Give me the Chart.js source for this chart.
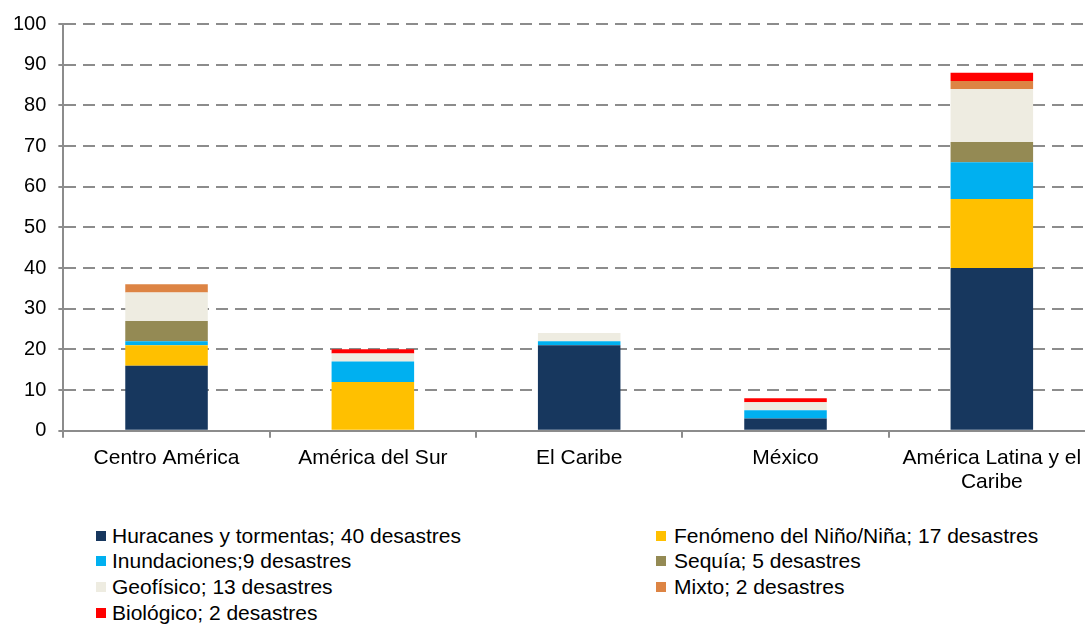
<!DOCTYPE html>
<html>
<head>
<meta charset="utf-8">
<script src="https://cdn.jsdelivr.net/npm/chart.js@4/dist/chart.umd.min.js"></script>
<style>
  html, body { margin: 0; padding: 0; background: #fff; overflow: hidden; }
  #wrap { position: relative; width: 1085px; height: 625px; overflow: hidden; }
  #chartBox { position: absolute; left: 0; top: 0; width: 1095px; height: 502px; }
  .leg { position: absolute; font-family: "Liberation Sans", Arial, sans-serif; font-size: 21px; color: #000; white-space: nowrap; line-height: 24px; }
  .leg span { position: absolute; width: 10px; height: 10px; top: 7px; }
</style>
</head>
<body>
<div id="wrap">
  <div id="chartBox"><canvas id="disasterChart"></canvas></div>
  <div id="legend"></div>
</div>
<script>
const categories = ['Centro América', 'América del Sur', 'El Caribe', 'México', ['América Latina y el', 'Caribe']];

const seriesNames = [
    'Huracanes y tormentas; 40 desastres',
    'Fenómeno del Niño/Niña; 17 desastres',
    'Inundaciones;9 desastres',
    'Sequía; 5 desastres',
    'Geofísico; 13 desastres',
    'Mixto; 2 desastres',
    'Biológico; 2 desastres'
];

const huracanes = [16, 0, 21, 3, 40];
const nino = [5, 12, 0, 0, 17];
const inundaciones = [1, 5, 1, 2, 9];
const sequia = [5, 0, 0, 0, 5];
const geofisico = [7, 2, 2, 2, 13];
const mixto = [2, 0, 0, 0, 2];
const biologico = [0, 1, 0, 1, 2];

const yTicks = [0, 10, 20, 30, 40, 50, 60, 70, 80, 90, 100];

const seriesValues = [huracanes, nino, inundaciones, sequia, geofisico, mixto, biologico];
const colors = ['#17375e', '#ffc000', '#00b0f0', '#948a54', '#eeece1', '#dd8444', '#ff0000'];

const datasets = seriesNames.map((name, i) => ({
    label: name,
    data: seriesValues[i],
    backgroundColor: colors[i],
    borderWidth: 0,
    barPercentage: 0.4,
    categoryPercentage: 1.0
}));

new Chart(document.getElementById('disasterChart'), {
    type: 'bar',
    data: { labels: categories, datasets: datasets },
    options: {
        responsive: true,
        maintainAspectRatio: false,
        animation: false,
        layout: { padding: { top: 12, left: 1, right: 0, bottom: 0 } },
        plugins: {
            legend: { display: false },
            tooltip: { enabled: false }
        },
        scales: {
            x: {
                stacked: true,
                grid: { display: true, drawOnChartArea: false, color: '#8c8c8c', lineWidth: 2, tickLength: 7, offset: true },
                border: { color: '#8c8c8c', width: 2 },
                ticks: {
                    color: '#000',
                    padding: 8,
                    maxRotation: 0,
                    autoSkip: false,
                    font: { family: '"Liberation Sans", Arial, sans-serif', size: 21, lineHeight: 1.15 }
                }
            },
            y: {
                stacked: true,
                min: 0,
                max: 100,
                afterBuildTicks: axis => { axis.ticks = yTicks.map(v => ({ value: v })); },
                grid: { color: '#8c8c8c', lineWidth: 2, tickLength: 5, tickColor: '#8c8c8c' },
                border: { color: '#8c8c8c', width: 2, dash: [12, 7] },
                ticks: {
                    color: '#000',
                    padding: 12,
                    font: { family: '"Liberation Sans", Arial, sans-serif', size: 20 }
                }
            }
        }
    }
});

// leyenda en dos columnas, como en el original
const legendEl = document.getElementById('legend');
const colX = [[96, 112], [656, 674]];
const rowY = [524, 549, 575, 601];
seriesNames.forEach((name, i) => {
    const col = i % 2, row = Math.floor(i / 2);
    const item = document.createElement('div');
    item.className = 'leg';
    item.style.left = colX[col][0] + 'px';
    item.style.top = rowY[row] + 'px';
    item.style.paddingLeft = (colX[col][1] - colX[col][0]) + 'px';
    item.innerHTML = '<span style="left:0;background:' + colors[i] + '"></span>' + name;
    legendEl.appendChild(item);
});
</script>
</body>
</html>
